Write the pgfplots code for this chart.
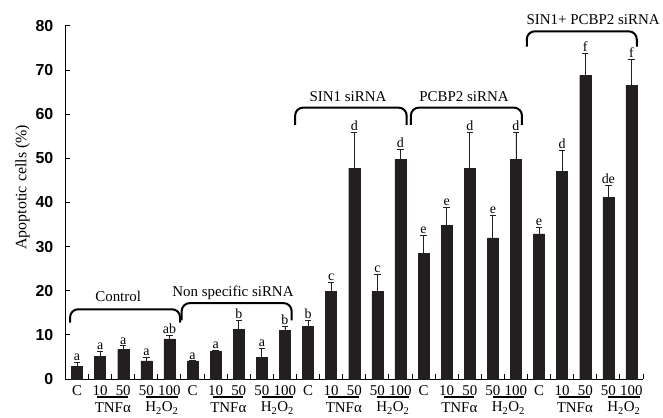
\documentclass[border=0pt]{standalone}
\usepackage{fontspec}
\setmainfont{Liberation Serif}
\setsansfont{Liberation Sans}
\usepackage{pgfplots}
\pgfplotsset{compat=1.18}
\usepackage{pgfplotstable}
\definecolor{barc}{HTML}{231F20}

\pgfplotstableread{
x y e lab
0 2.9 0.8 a
1 5.2 1.1 a
2 6.7 0.8 a
3 4.1 0.8 a
4 9.1 0.8 ab
5 4.1 0.0 a
6 6.2 0.2 a
7 11.3 1.9 b
8 4.9 2.1 a
9 11.0 0.9 b
10 11.9 1.3 b
11 19.8 2.1 c
12 47.8 8.0 d
13 19.8 4.0 c
14 49.8 2.3 d
15 28.5 4.1 e
16 34.9 4.0 e
17 47.8 8.0 d
18 32.0 5.0 e
19 49.8 6.0 d
20 32.9 1.4 e
21 47.0 4.8 d
22 68.8 5.0 f
23 41.1 2.7 de
24 66.5 6.0 f
}\data

\begin{document}
\begin{tikzpicture}
\begin{axis}[
  at={(0,0)}, anchor=south west,
  scale only axis, width=577.5bp, height=353bp,
  xmin=-0.5, xmax=24.5, ymin=0, ymax=80,
  axis x line*=bottom, axis y line*=left,
  axis line style={line width=1bp, -, black},
  clip=false,
  xtick={0,...,24},
  xticklabels={C,10,50,50,100,C,10,50,50,100,C,10,50,50,100,C,10,50,50,100,C,10,50,50,100},
  major x tick style={draw=none},
  minor xtick={0.5,1.5,...,24.5},
  minor tick length=5bp,
  major tick length=5bp,
  tick align=inside,
  minor x tick style={line width=1bp, black},
  ytick={0,10,...,80},
  ytick style={line width=1bp, black},
  xticklabel style={font=\fontsize{15}{18}\selectfont, inner sep=0pt, yshift=-6bp, anchor=north},
  yticklabel style={font=\sffamily\bfseries\fontsize{16}{18}\selectfont, inner sep=0pt, xshift=-12bp, anchor=east},
  /pgf/number format/assume math mode=true,
  ylabel={Apoptotic cells (\%)},
  ylabel style={font=\fontsize{16}{18}\selectfont, at={(axis description cs:0,0.543)}, anchor=center, rotate=0, yshift=43bp},
]
\addplot[ybar, bar width=0.48, fill=barc, draw=barc,
  error bars/.cd, y dir=plus, y explicit,
  error bar style={line width=0.9bp, barc},
  error mark options={rotate=90, mark size=3.2bp, line width=0.9bp, barc}]
  table[x=x, y=y, y error=e]{\data};
\addplot[draw=none, mark=none, nodes near coords, point meta=explicit symbolic,
  nodes near coords style={font=\fontsize{14}{16}\selectfont, anchor=south, inner sep=1.5bp}]
  table[x=x, y expr=\thisrow{y}+\thisrow{e}, meta=lab]{\data};

% brackets
\draw[line width=2bp, rounded corners=8bp] (axis cs:-0.3,12.8) -- (axis cs:-0.3,15.8) -- (axis cs:4.46,15.8) -- (axis cs:4.46,12.8);
\draw[line width=2bp, rounded corners=8bp] (axis cs:4.53,13.3) -- (axis cs:4.53,17.2) -- (axis cs:9.29,17.2) -- (axis cs:9.29,13.3);
\draw[line width=2bp, rounded corners=8bp] (axis cs:9.44,57.6) -- (axis cs:9.44,61.5) -- (axis cs:14.27,61.5) -- (axis cs:14.27,57.6);
\draw[line width=2bp, rounded corners=8bp] (axis cs:14.45,57.6) -- (axis cs:14.45,61.5) -- (axis cs:19.26,61.5) -- (axis cs:19.26,57.6);
\draw[line width=2bp, rounded corners=8bp] (axis cs:19.47,75.3) -- (axis cs:19.47,78.8) -- (axis cs:24.23,78.8) -- (axis cs:24.23,75.3);
\node[font=\fontsize{15}{18}\selectfont] at (axis cs:1.78,18.7) {Control};
\node[font=\fontsize{15}{18}\selectfont] at (axis cs:6.75,19.6) {Non specific siRNA};
\node[font=\fontsize{15}{18}\selectfont] at (axis cs:11.73,63.9) {SIN1 siRNA};
\node[font=\fontsize{15}{18}\selectfont] at (axis cs:16.75,63.9) {PCBP2 siRNA};
\node[font=\fontsize{15}{18}\selectfont] at (axis cs:22.34,81.4) {SIN1+ PCBP2 siRNA};

% treatment underlines and labels
\draw[line width=2.2bp] (axis cs:0.88,-4.1) -- (axis cs:2.2,-4.1);
\draw[line width=2.2bp] (axis cs:3.0,-4.1) -- (axis cs:4.35,-4.1);
\draw[line width=2.2bp] (axis cs:5.88,-4.1) -- (axis cs:7.2,-4.1);
\draw[line width=2.2bp] (axis cs:8.0,-4.1) -- (axis cs:9.35,-4.1);
\draw[line width=2.2bp] (axis cs:10.88,-4.1) -- (axis cs:12.2,-4.1);
\draw[line width=2.2bp] (axis cs:13.0,-4.1) -- (axis cs:14.35,-4.1);
\draw[line width=2.2bp] (axis cs:15.88,-4.1) -- (axis cs:17.2,-4.1);
\draw[line width=2.2bp] (axis cs:18.0,-4.1) -- (axis cs:19.35,-4.1);
\draw[line width=2.2bp] (axis cs:20.88,-4.1) -- (axis cs:22.2,-4.1);
\draw[line width=2.2bp] (axis cs:23.0,-4.1) -- (axis cs:24.35,-4.1);
\node[font=\fontsize{15}{18}\selectfont] at (axis cs:1.55,-6.6) {TNFα};
\node[font=\fontsize{15}{18}\selectfont] at (axis cs:3.67,-6.6) {H\textsubscript{2}O\textsubscript{2}};
\node[font=\fontsize{15}{18}\selectfont] at (axis cs:6.55,-6.6) {TNFα};
\node[font=\fontsize{15}{18}\selectfont] at (axis cs:8.67,-6.6) {H\textsubscript{2}O\textsubscript{2}};
\node[font=\fontsize{15}{18}\selectfont] at (axis cs:11.55,-6.6) {TNFα};
\node[font=\fontsize{15}{18}\selectfont] at (axis cs:13.67,-6.6) {H\textsubscript{2}O\textsubscript{2}};
\node[font=\fontsize{15}{18}\selectfont] at (axis cs:16.55,-6.6) {TNFα};
\node[font=\fontsize{15}{18}\selectfont] at (axis cs:18.67,-6.6) {H\textsubscript{2}O\textsubscript{2}};
\node[font=\fontsize{15}{18}\selectfont] at (axis cs:21.55,-6.6) {TNFα};
\node[font=\fontsize{15}{18}\selectfont] at (axis cs:23.67,-6.6) {H\textsubscript{2}O\textsubscript{2}};
\end{axis}
\pgfresetboundingbox
\path[use as bounding box] (-65.5bp,-39bp) rectangle (597.5bp,379bp);
\end{tikzpicture}
\end{document}
